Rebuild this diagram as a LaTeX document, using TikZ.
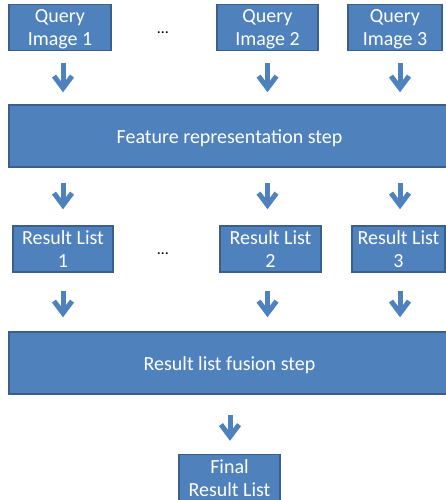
\documentclass[tikz,border=0pt]{standalone}
\usepackage{fontspec}
\setmainfont{Carlito}
\usetikzlibrary{arrows.meta,calc}
\definecolor{boxfill}{HTML}{4F81BD}
\definecolor{boxline}{HTML}{3A5F8C}
\newcommand\tstrut{\rule[-4.5pt]{0pt}{23pt}}
\tikzset{
  bluebox/.style={draw=boxline, line width=1.5pt, fill=boxfill, text=white, inner sep=0pt, align=center,
    font=\fontsize{20}{23}\selectfont},
  barrow/.style={draw=boxfill, line width=5pt, -{Straight Barb[sharp,length=12pt,width=18pt]}},
  dots/.style={font=\fontsize{16}{18}\selectfont, text=black, inner sep=0pt}
}
\begin{document}
\begin{tikzpicture}[x=1pt,y=-1pt]
\useasboundingbox (0,0) rectangle (446,500);
% top row
\node[bluebox, minimum width=102pt, minimum height=45pt] (q1) at (60,27.5) {\tstrut Query\\\tstrut Image 1};
\node[bluebox, minimum width=101pt, minimum height=45pt] (q2) at (267.5,27.5) {\tstrut Query\\\tstrut Image 2};
\node[bluebox, minimum width=94pt, minimum height=45pt] (q3) at (395,27.5) {\tstrut Query\\\tstrut Image 3};
\node[dots] (d1) at (163,33) {…};
% feature step
\node[bluebox, minimum width=441pt, minimum height=62pt] (feat) at (229.5,136) {\tstrut Feature representation step};
% result lists
\node[bluebox, minimum width=100pt, minimum height=42pt] (r1) at (63,249) {\tstrut Result List\\\tstrut 1};
\node[bluebox, minimum width=101pt, minimum height=42pt] (r2) at (270.5,249) {\tstrut Result List\\\tstrut 2};
\node[bluebox, minimum width=93pt, minimum height=42pt] (r3) at (398.5,249) {\tstrut Result List\\\tstrut 3};
\node[dots] (d2) at (163,254) {…};
% fusion step
\node[bluebox, minimum width=441pt, minimum height=62pt] (fus) at (229.5,363) {\tstrut Result list fusion step};
% final
\node[bluebox, minimum width=101pt, minimum height=41pt] (fin) at (229.5,477.5) {\tstrut Final\\\tstrut Result List};
% arrows row 1
\draw[barrow] ($(q1.south)+(3,12)$) -- ($(feat.north -| q1.south)+(3,-12)$);
\draw[barrow] ($(q2.south)+(0,12)$) -- ($(feat.north -| q2.south)+(0,-12)$);
\draw[barrow] ($(q3.south)+(5,12)$) -- ($(feat.north -| q3.south)+(5,-12)$);
% arrows row 2
\draw[barrow] ($(feat.south -| r1.north)+(0,15)$) -- ($(r1.north)+(0,-16)$);
\draw[barrow] ($(feat.south -| r2.north)+(-3,15)$) -- ($(r2.north)+(-3,-16)$);
\draw[barrow] ($(feat.south -| r3.north)+(1.5,15)$) -- ($(r3.north)+(1.5,-16)$);
% arrows row 3
\draw[barrow] ($(r1.south)+(0,18)$) -- ($(fus.north -| r1.south)+(0,-14)$);
\draw[barrow] ($(r2.south)+(-3,18)$) -- ($(fus.north -| r2.south)+(-3,-14)$);
\draw[barrow] ($(r3.south)+(1.5,18)$) -- ($(fus.north -| r3.south)+(1.5,-14)$);
% arrow row 4
\draw[barrow] ($(fus.south -| fin.north)+(0.5,20)$) -- ($(fin.north)+(0.5,-13)$);
\end{tikzpicture}
\end{document}
